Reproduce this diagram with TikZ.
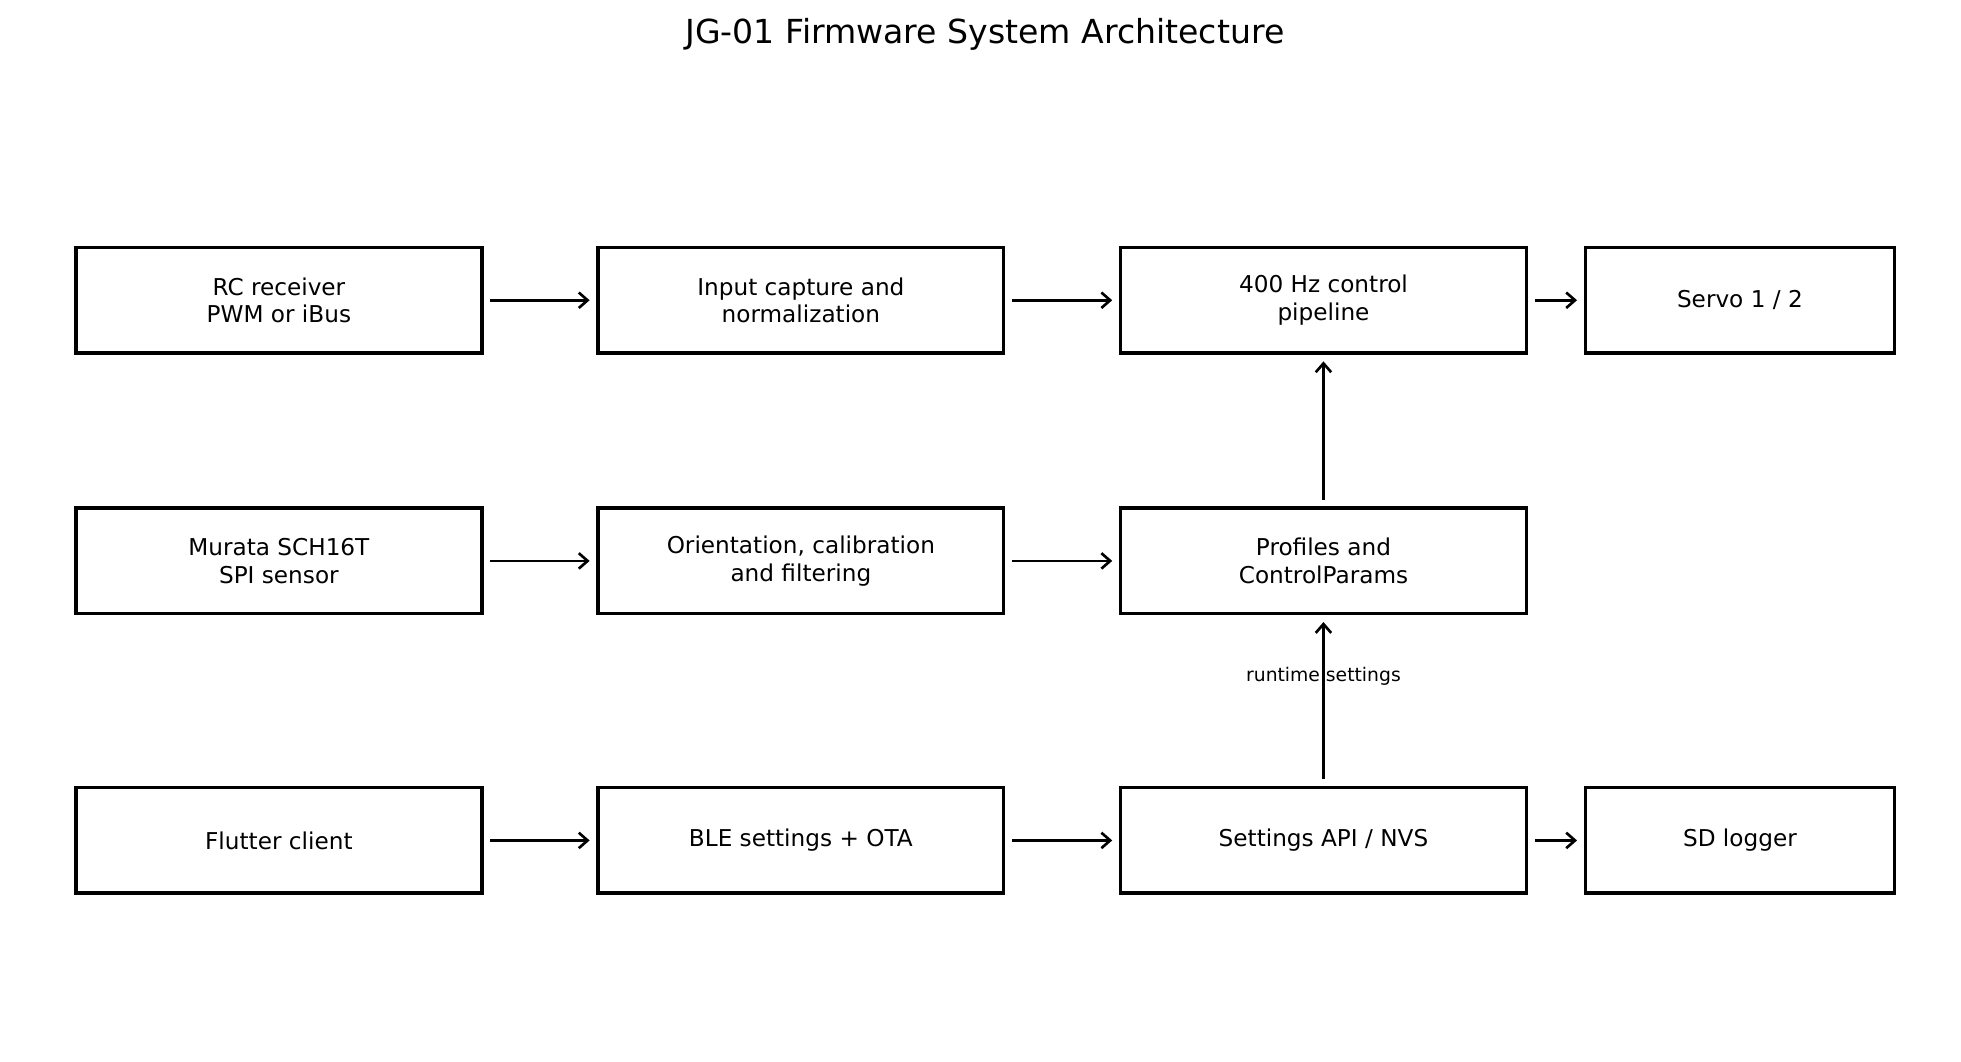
\documentclass[tikz,border=0pt]{standalone}
\usepackage{fontspec}
\setmainfont{DejaVu Sans}
\usetikzlibrary{arrows.meta}

\begin{document}
\begin{tikzpicture}[
    x = 0.02cm,
    y = -0.02cm,
    >={Straight Barb[length=4pt,width=7pt]},
    block/.style = {
      draw,
      line width = 1.6pt,
      minimum height = 1.68cm,
      align = center,
      font = \fontsize{10.5}{12.5}\selectfont
    },
    wide/.style = {block, minimum width = 6.46cm},
    narrow/.style = {block, minimum width = 4.92cm},
    link/.style = {->, line width = 1.2pt, shorten < = 3pt, shorten > = 3pt}
  ]
  \useasboundingbox (0,0) rectangle (1561,845);

  \node[font=\fontsize{15}{18}\selectfont] (title) at (784,27) {JG-01 Firmware System Architecture};

  % top row
  \node[wide]   (rc)    at (222,239)    {RC receiver\\PWM or iBus};
  \node[wide]   (input) at (637.5,239)  {Input capture and\\normalization};
  \node[wide]   (ctrl)  at (1053.5,239) {400 Hz control\\pipeline};
  \node[narrow] (servo) at (1385,239)   {Servo 1 / 2};

  % middle row
  \node[wide] (imu)    at (222,446.5)    {Murata SCH16T\\SPI sensor};
  \node[wide] (orient) at (637.5,446.5)  {Orientation, calibration\\and filtering};
  \node[wide] (prof)   at (1053.5,446.5) {Profiles and\\ControlParams};

  % bottom row
  \node[wide]   (app)    at (222,669)    {Flutter client};
  \node[wide]   (ble)    at (637.5,669)  {BLE settings + OTA};
  \node[wide]   (api)    at (1053.5,669) {Settings API / NVS};
  \node[narrow] (sd)     at (1385,669)   {SD logger};

  \draw[link] (rc) -- (input);
  \draw[link] (input) -- (ctrl);
  \draw[link] (ctrl) -- (servo);

  \draw[link] (imu) -- (orient);
  \draw[link] (orient) -- (prof);
  \draw[link] (prof) -- (ctrl);

  \draw[link] (app) -- (ble);
  \draw[link] (ble) -- (api);
  \draw[link] (api) -- (sd);
  \draw[link] (api) -- (prof);

  \node[font=\fontsize{8.5}{10}\selectfont] (rt) at (1053.5,538) {runtime settings};
\end{tikzpicture}
\end{document}
